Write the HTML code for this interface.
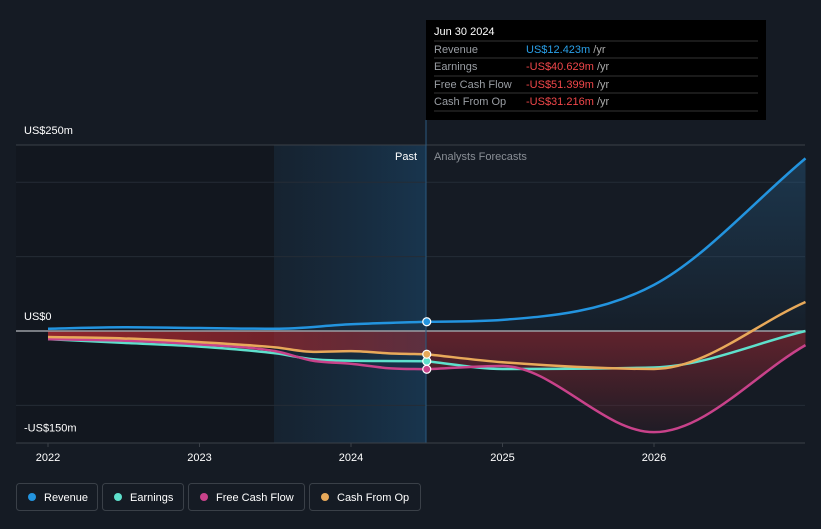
<!DOCTYPE html>
<html><head><meta charset="utf-8"><style>
body{margin:0;background:#151b24;width:821px;height:524px;overflow:hidden;font-family:"Liberation Sans",sans-serif}
svg text{font-family:"Liberation Sans",sans-serif}
</style></head><body>
<svg id="c" width="821" height="524">
<defs>
<linearGradient id="pastg" x1="0" x2="1"><stop offset="0" stop-color="#1a3a55" stop-opacity="0.25"/><stop offset="1" stop-color="#1a4a70" stop-opacity="0.55"/></linearGradient>
<linearGradient id="redg" x1="0" x2="1"><stop offset="0" stop-color="#b02a30" stop-opacity="0.8"/><stop offset="1" stop-color="#b02a30" stop-opacity="0.45"/></linearGradient>
<linearGradient id="redv" x1="0" y1="0" x2="0" y2="1"><stop offset="0" stop-color="#7a2530" stop-opacity="0.75"/><stop offset="1" stop-color="#7a2530" stop-opacity="0.1"/></linearGradient>
<linearGradient id="blueg" x1="0" y1="0" x2="0" y2="1"><stop offset="0" stop-color="#2a6a9a" stop-opacity="0.35"/><stop offset="1" stop-color="#2a6a9a" stop-opacity="0.05"/></linearGradient>
</defs>
<rect x="16" y="145" width="258" height="298" fill="#12171f"/>
<rect x="274" y="145" width="152" height="298" fill="url(#pastg)"/>
<g id="grid"></g>
<g id="areas"></g>
<g id="lines"></g>
<line x1="426" y1="120" x2="426" y2="443" stroke="#2a5a80" stroke-width="1"/>
<text x="417" y="160" fill="#fff" font-size="11" text-anchor="end">Past</text>
<text x="434" y="160" fill="#8a8f96" font-size="11">Analysts Forecasts</text>
<g id="axis"></g>
<g id="dots"></g>
<g>
<rect x="426" y="20" width="340" height="100" fill="#000"/>
<text x="434" y="35" fill="#fff" font-size="11">Jun 30 2024</text>
<line x1="434" y1="41" x2="758" y2="41" stroke="#333"/>
<text x="434" y="53" fill="#9a9ea4" font-size="11">Revenue</text><text x="526" y="53" font-size="11" fill="#2aa0e8">US$12.423m <tspan fill="#aaa">/yr</tspan></text>
<line x1="434" y1="58" x2="758" y2="58" stroke="#333"/>
<text x="434" y="70" fill="#9a9ea4" font-size="11">Earnings</text><text x="526" y="70" font-size="11" fill="#f0474a">-US$40.629m <tspan fill="#aaa">/yr</tspan></text>
<line x1="434" y1="76" x2="758" y2="76" stroke="#333"/>
<text x="434" y="88" fill="#9a9ea4" font-size="11">Free Cash Flow</text><text x="526" y="88" font-size="11" fill="#f0474a">-US$51.399m <tspan fill="#aaa">/yr</tspan></text>
<line x1="434" y1="93" x2="758" y2="93" stroke="#333"/>
<text x="434" y="105" fill="#9a9ea4" font-size="11">Cash From Op</text><text x="526" y="105" font-size="11" fill="#f0474a">-US$31.216m <tspan fill="#aaa">/yr</tspan></text>
<line x1="434" y1="111" x2="758" y2="111" stroke="#333"/>
</g>
<g id="legend"></g>
</svg>
<script>
const yearTicks=[2022,2023,2024,2025,2026];
const yTickVals=[250,0,-150];
const yTickLabels=["US$250m","US$0","-US$150m"];
const gridVals=[200,100,-100];
const revT=[2022,2022.5,2023,2023.5,2024,2024.5,2025,2026,2027];
const revV=[3,5,4,3,9,12.4,15,62,232];
const earnT=[2022,2022.5,2023,2023.5,2023.75,2024,2024.5,2025,2026,2027];
const earnV=[-11,-16,-21,-30,-38,-40,-40.6,-51,-49,0];
const fcfT=[2022,2022.5,2023,2023.5,2023.75,2024,2024.25,2024.5,2025,2026,2027];
const fcfV=[-11,-13,-18,-27,-40,-44,-50,-51.4,-47,-136,-19];
const cfoT=[2022,2022.5,2023,2023.5,2023.75,2024,2024.25,2024.5,2025,2026,2027];
const cfoV=[-8,-10,-15,-22,-28,-27,-30,-31.2,-42,-51,39];
const legendNames=["Revenue","Earnings","Free Cash Flow","Cash From Op"];
const colors=["#2394df","#5ee0cc","#c8428a","#e8a95a"];
const NOW=2024.5;
const X=t=>48+(t-2022)*151.5;
const Y=v=>331-v*0.744;
const NS="http://www.w3.org/2000/svg";
function mk(tag,attrs,parent){const e=document.createElementNS(NS,tag);for(const k in attrs)e.setAttribute(k,attrs[k]);parent.appendChild(e);return e;}
function pathD(T,V,noMove){const x=T.map(X),y=V.map(Y),n=x.length;
let d=noMove?'':`M${x[0]},${y[0]}`;if(n<2)return d;
const s=[];for(let i=0;i<n-1;i++)s.push((y[i+1]-y[i])/(x[i+1]-x[i]));
const m=[];m[0]=s[0];m[n-1]=s[n-2];
for(let i=1;i<n-1;i++){m[i]=(s[i-1]*s[i]<=0)?0:(s[i-1]+s[i])/2;}
for(let i=0;i<n-1;i++){if(s[i]===0){m[i]=0;m[i+1]=0;continue;}const a=m[i]/s[i],b=m[i+1]/s[i],h=a*a+b*b;if(h>9){const t=3/Math.sqrt(h);m[i]=t*a*s[i];m[i+1]=t*b*s[i];}}
for(let i=0;i<n-1;i++){const h=(x[i+1]-x[i])/3;
d+=` C${x[i]+h},${y[i]+m[i]*h} ${x[i+1]-h},${y[i+1]-m[i+1]*h} ${x[i+1]},${y[i+1]}`;}return d;}
function sub(T,V,f){const t=[],v=[];T.forEach((x,i)=>{if(f(x)){t.push(x);v.push(V[i]);}});return [t,v];}
function splitD(T,V){const [a,b]=sub(T,V,t=>t<=NOW),[c,d]=sub(T,V,t=>t>=NOW);return pathD(a,b)+pathD(c,d,true);}
const grid=document.getElementById('grid');
gridVals.forEach(v=>{const l=mk('line',{x1:16,x2:805,y1:Y(v),y2:Y(v),stroke:'#252c36'},grid);

});
const topLine=mk('line',{x1:16,x2:805,y1:Y(250),y2:Y(250),stroke:'#3a4048'},grid);


const areas=document.getElementById('areas');
const [pcT,pcV]=sub(cfoT,cfoV,t=>t<=NOW);
const ra=mk('path',{d:pathD(pcT,pcV)+` L${X(NOW)},${Y(0)} L${X(pcT[0])},${Y(0)} Z`,fill:'url(#redg)'},areas);


const [ffT,ffV]=sub(fcfT,fcfV,t=>t>=NOW);
const fa=mk('path',{d:pathD(ffT,ffV)+` L${X(ffT[ffT.length-1])},${Y(0)} L${X(NOW)},${Y(0)} Z`,fill:'url(#redv)'},areas);


const [frT,frV]=sub(revT,revV,t=>t>=NOW);
const ba=mk('path',{d:pathD(frT,frV)+` L${X(frT[frT.length-1])},${Y(0)} L${X(NOW)},${Y(0)} Z`,fill:'url(#blueg)'},areas);


const zl=mk('line',{x1:16,x2:805,y1:Y(0),y2:Y(0),stroke:'#9a9ea4','stroke-width':1.5},areas);


const lines=document.getElementById('lines');
const series=[[revT,revV],[earnT,earnV],[fcfT,fcfV],[cfoT,cfoV]];
const order=[1,2,3,0];
order.forEach(i=>{const p=mk('path',{d:splitD(series[i][0],series[i][1]),fill:'none',stroke:colors[i],'stroke-width':2.5},lines);

});
const dots=document.getElementById('dots');
series.forEach((s,i)=>{const k=s[0].indexOf(NOW);const c=mk('circle',{cx:X(NOW),cy:Y(s[1][k]),r:4,fill:colors[i],stroke:'#fff','stroke-width':1.2},dots);

});
const axis=document.getElementById('axis');
const bl=mk('line',{x1:16,x2:805,y1:443,y2:443,stroke:'#3a4048'},axis);


yearTicks.forEach(y=>{const tk=mk('line',{x1:X(y),x2:X(y),y1:443,y2:447,stroke:'#3a4048'},axis);


const t=mk('text',{x:X(y),y:461,fill:'#fff','font-size':11,'text-anchor':'middle'},axis);t.textContent=y;

});
yTickVals.forEach((v,i)=>{const t=mk('text',{x:24,y:Y(v)-11,fill:'#fff','font-size':11},axis);t.textContent=yTickLabels[i];

});
const lg=document.getElementById('legend');
const lx=[16,102,188,309],lw=[81,81,116,111];
legendNames.forEach((n,i)=>{const g=mk('g',{},lg);


mk('rect',{x:lx[i]+0.5,y:483.5,width:lw[i],height:27,rx:3,fill:'none',stroke:'#3a4048'},g);
mk('circle',{cx:lx[i]+16,cy:497,r:4,fill:colors[i]},g);
const t=mk('text',{x:lx[i]+28,y:501,fill:'#fff','font-size':11},g);t.textContent=n;});
</script>
</body></html>
